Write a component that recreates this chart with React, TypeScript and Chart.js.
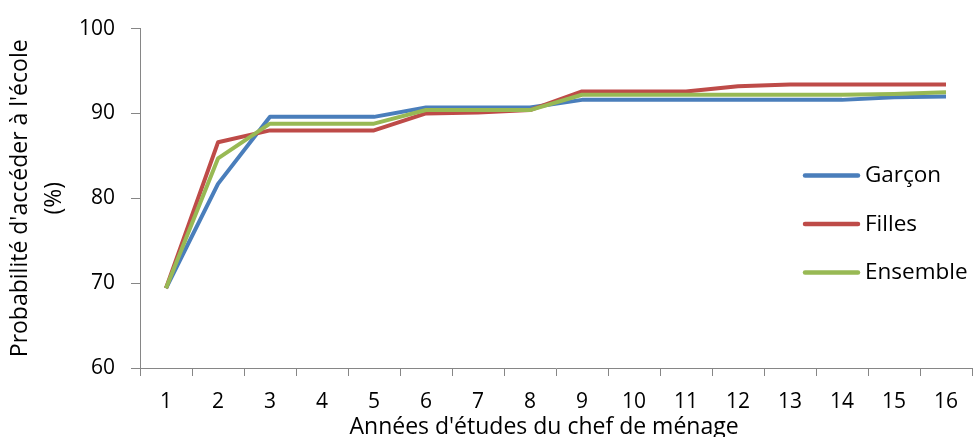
import React, { useEffect, useRef } from 'react';
import { Chart, registerables } from 'chart.js';

Chart.register(...registerables);

const years = ['1', '2', '3', '4', '5', '6', '7', '8', '9', '10', '11', '12', '13', '14', '15', '16'];
const garcon = [69.4, 81.7, 89.6, 89.6, 89.6, 90.7, 90.7, 90.7, 91.6, 91.6, 91.6, 91.6, 91.6, 91.6, 91.9, 92.0];
const filles = [69.4, 86.6, 88.0, 88.0, 88.0, 90.0, 90.1, 90.4, 92.6, 92.6, 92.6, 93.2, 93.4, 93.4, 93.4, 93.4];
const ensemble = [69.4, 84.7, 88.8, 88.8, 88.8, 90.4, 90.4, 90.4, 92.2, 92.2, 92.2, 92.2, 92.2, 92.2, 92.3, 92.5];
const seriesLabels = ['Garçon', 'Filles', 'Ensemble'];
const yTitle = ["Probabilité d'accéder à l'école", '(%)'];
const xTitle = "Années d'études du chef de ménage\u00A0\u00A0\u00A0\u00A0";

const FONT = '"Open Sans", "Noto Sans", sans-serif';
const AXIS = '#868686';

const insideLegend = {
  id: 'insideLegend',
  afterDatasetsDraw(chart: any) {
    const { ctx, chartArea } = chart;
    chart.data.datasets.forEach((ds: any, i: number) => {
      const y = chartArea.top + 147 + i * 48.5;
      const x0 = chartArea.right - 167;
      ctx.save();
      ctx.strokeStyle = ds.borderColor;
      ctx.lineWidth = 4.5;
      ctx.lineCap = 'round';
      ctx.beginPath();
      ctx.moveTo(x0, y);
      ctx.lineTo(x0 + 53, y);
      ctx.stroke();
      ctx.fillStyle = '#000';
      ctx.font = `22.5px ${FONT}`;
      ctx.textBaseline = 'middle';
      ctx.textAlign = 'left';
      ctx.fillText(ds.label, x0 + 60, y);
      ctx.restore();
    });
  },
};

export default function App() {
  const ref = useRef<HTMLCanvasElement>(null);
  useEffect(() => {
    if (!ref.current) return;
    const chart = new Chart(ref.current, {
      type: 'line',
      data: {
        labels: years,
        datasets: [
          { label: seriesLabels[0], data: garcon, borderColor: '#4A7EBB', backgroundColor: '#4A7EBB', order: 2 },
          { label: seriesLabels[1], data: filles, borderColor: '#BE4B48', backgroundColor: '#BE4B48', order: 1 },
          { label: seriesLabels[2], data: ensemble, borderColor: '#98B954', backgroundColor: '#98B954', order: 0 },
        ].map((d) => ({ ...d, borderWidth: 4, pointRadius: 0, tension: 0, borderJoinStyle: 'round' as const })),
      },
      options: {
        animation: false,
        responsive: true,
        maintainAspectRatio: false,
        layout: { padding: { top: 25, right: 5, left: 0, bottom: 0 } },
        plugins: { legend: { display: false }, tooltip: { enabled: false } },
        scales: {
          x: {
            offset: true,
            grid: { offset: true, drawOnChartArea: false, drawTicks: true, tickLength: 8, color: AXIS },
            border: { display: true, color: AXIS, width: 1 },
            ticks: { color: '#000', padding: 13, font: { family: FONT, size: 21 }, maxRotation: 0, autoSkip: false },
            title: {
              display: true,
              text: xTitle,
              color: '#000',
              font: { family: FONT, size: 23, lineHeight: 0.87 },
              padding: { top: 0, bottom: 0 },
            },
            afterFit: (s: any) => { s.height = 69; },
          },
          y: {
            min: 60,
            max: 100,
            ticks: { stepSize: 10, color: '#000', padding: 16, font: { family: FONT, size: 21 } },
            grid: { drawOnChartArea: false, drawTicks: true, tickLength: 9, color: AXIS },
            border: { display: true, color: AXIS, width: 1 },
            title: {
              display: true,
              text: yTitle,
              color: '#000',
              font: { family: FONT, size: 23, lineHeight: 1.52 },
              padding: { top: 2.5, bottom: 0 },
            },
            afterFit: (s: any) => { s.width = 140; },
          },
        },
      },
      plugins: [insideLegend],
    });
    return () => chart.destroy();
  }, []);
  return (
    <div style={{ position: 'absolute', left: 0, top: 0, width: 977, height: 437, background: '#fff' }}>
      <canvas ref={ref} />
    </div>
  );
}
